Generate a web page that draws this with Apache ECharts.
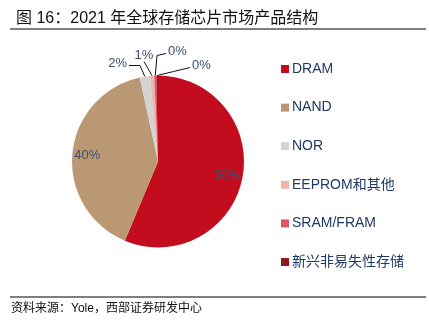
<!DOCTYPE html>
<html><head><meta charset="utf-8">
<script src="https://cdn.jsdelivr.net/npm/echarts@6/dist/echarts.min.js"></script>
<style>html,body{margin:0;padding:0;background:#fff;}#c{width:429px;height:329px;}</style>
</head><body><div id="c"></div>
<script>
const categories = ['DRAM','NAND','NOR','EEPROM和其他','SRAM/FRAM','新兴非易失性存储'];
const values = [56.3, 40.3, 1.9, 0.8, 0.4, 0.3];
const labels = ['56%','40%','2%','1%','0%','0%'];
const colors = ['#C30D1F','#BA9874','#D3D3D3','#EDB6A8','#E05468','#8C1B1F'];

const CX = 158, CY = 161.5, R = 86;
// outside label placement for the small slices (offsets relative to pie centre)
const outsideSpots = {
  2: {x:-31, y:-98, align:'right', bend:[-18,-96]},
  3: {x:-14, y:-106, align:'center', bend:null},
  4: {x:10, y:-110, align:'left', bend:[-1,-106]},
  5: {x:34, y:-96, align:'left', bend:null}
};
const FONT = 'Liberation Sans, Arial, Noto Sans CJK SC, sans-serif';
const chart = echarts.init(document.getElementById('c'));
const data = categories.map((n,i)=>({name:n, value:values[i], itemStyle:{color:colors[i]}}));

chart.setOption({
  animation:false,
  title:{text:'图 16：2021 年全球存储芯片市场产品结构', left:11, top:6,
    textStyle:{fontSize:16, fontWeight:'normal', color:'#111', fontFamily:FONT}},
  graphic:[
    {type:'line', shape:{x1:10,y1:29,x2:426,y2:29}, style:{stroke:'#7f7f7f', lineWidth:2}},
    {type:'line', shape:{x1:10,y1:297,x2:426,y2:297}, style:{stroke:'#7f7f7f', lineWidth:2}},
    {type:'text', left:11, top:303, style:{text:'资料来源：Yole，西部证券研发中心', fontSize:12, fill:'#111', fontFamily:FONT}}
  ],
  legend:{orient:'vertical', left:276, top:57, itemWidth:8, itemHeight:8, itemGap:24.6,
    icon:'rect', textStyle:{fontSize:14, color:'#1F3864', fontFamily:FONT, padding:[0,0,0,-2]},
    data:categories},
  series:[
    {type:'pie', center:[CX,CY], radius:[0,R], startAngle:90, clockwise:true,
      avoidLabelOverlap:false,
      label:{show:true, position:'outside', fontSize:13, color:'#3f4d6a', fontFamily:FONT,
        formatter:p=>labels[p.dataIndex]},
      labelLine:{show:true, length:8, length2:8, lineStyle:{color:'#111', width:1}},
      labelLayout:function(p){
        const s = outsideSpots[p.dataIndex];
        if(!s) return {};
        const p0 = p.labelLinePoints ? p.labelLinePoints[0] : [CX,CY-R];
        const lx = CX + s.x, ly = CY + s.y;
        const w = p.labelRect.width;
        let ex;
        if(s.align==='right') ex = lx + 2;
        else if(s.align==='left') ex = lx - 2;
        else ex = lx;
        const ey = s.align==='center' ? ly + 6 : ly + 2;
        const pts = [p0];
        if(s.bend) pts.push([CX+s.bend[0], CY+s.bend[1]]);
        else pts.push([(p0[0]+ex)/2,(p0[1]+ey)/2]);
        pts.push([ex, ey]);
        return {x:lx, y:ly, align:s.align, verticalAlign:'middle', labelLinePoints:pts, hideOverlap:false};
      },
      data:data.map((d,i)=>i<2?Object.assign({},d,{label:{show:false},labelLine:{show:false}}):d)},
    {type:'pie', center:[CX,CY], radius:[50,R], startAngle:90, clockwise:true, silent:true,
      legendHoverLink:false,
      itemStyle:{color:'rgba(0,0,0,0)'},
      label:{show:true, position:'inside', fontSize:13, color:'#3f4d6a', fontFamily:FONT,
        formatter:p=>p.dataIndex<2?labels[p.dataIndex]:''},
      labelLine:{show:false},
      data:categories.map((n,i)=>({name:n+' ', value:values[i]}))}
  ]
});
</script></body></html>
